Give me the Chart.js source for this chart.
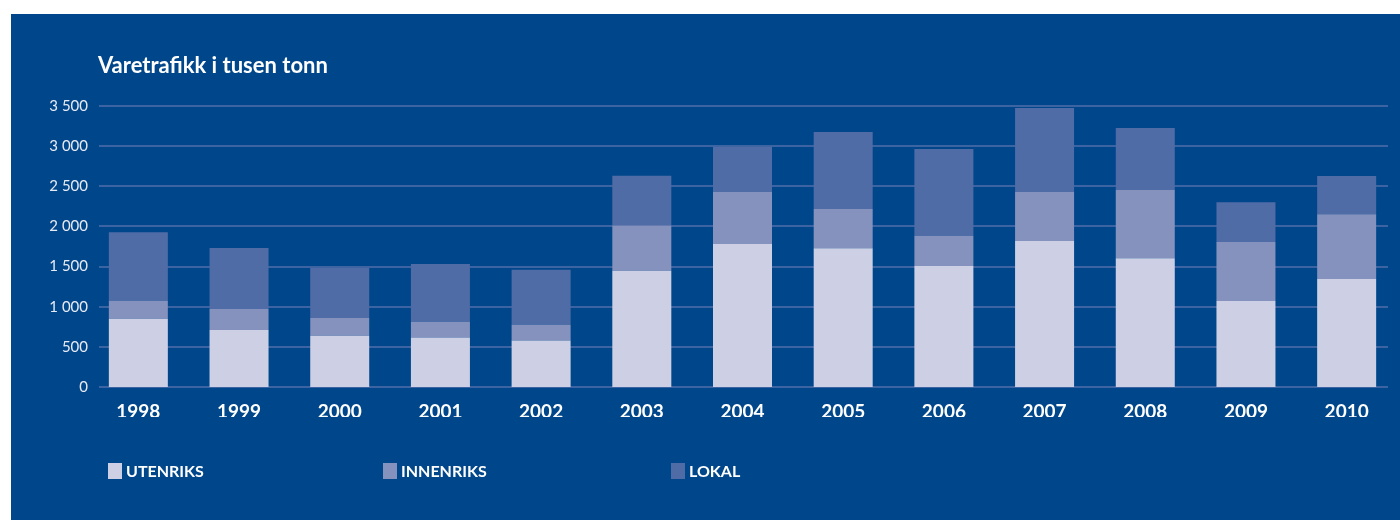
<!DOCTYPE html>
<html>
<head>
<meta charset="utf-8">
<script src="https://cdn.jsdelivr.net/npm/chart.js@4"></script>
<style>
  html, body { margin: 0; padding: 0; background: #ffffff; }
  #wrap { position: absolute; left: 11px; top: 14px; width: 1389px; height: 506px; background: #00468b; }
</style>
</head>
<body>
<div id="wrap"><canvas id="chart" width="1389" height="506"></canvas></div>
<script>
// Varetrafikk i tusen tonn
const years = ["1998", "1999", "2000", "2001", "2002", "2003", "2004", "2005", "2006", "2007", "2008", "2009", "2010"];
const utenriks = [851, 710, 639, 618, 580, 1449, 1781, 1728, 1507, 1819, 1603, 1071, 1345];
const innenriks = [224, 262, 220, 195, 196, 564, 648, 489, 378, 610, 851, 735, 806];
const lokal = [852, 759, 627, 719, 685, 619, 564, 959, 1080, 1046, 772, 494, 477];
const yTicks = [0, 500, 1000, 1500, 2000, 2500, 3000, 3500];

const chartTitle = "Varetrafikk i tusen tonn";
const FONT = "Lato, 'Open Sans', sans-serif";

// grid lines are a bit shorter than the bar area, so draw them here
const gridLines = {
  id: "gridLines",
  beforeDatasetsDraw(chart) {
    const { ctx, chartArea, scales } = chart;
    ctx.save();
    ctx.strokeStyle = "#3c63a2";
    ctx.lineWidth = 2;
    yTicks.forEach((v) => {
      const y = Math.round(scales.y.getPixelForValue(v));
      ctx.beginPath();
      ctx.moveTo(chartArea.left + 11, y);
      ctx.lineTo(chartArea.right - 9, y);
      ctx.stroke();
    });
    ctx.restore();
  },
};

// title and legend
const panelText = {
  id: "panelText",
  afterDraw(chart) {
    const { ctx } = chart;
    ctx.save();
    ctx.fillStyle = "#ffffff";
    ctx.textBaseline = "middle";
    ctx.font = "bold 22px " + FONT;
    ctx.fillText(chartTitle, 87, 52);

    const legendX = [97, 372, 660];
    ctx.font = "bold 16px " + FONT;
    chart.data.datasets.forEach((ds, i) => {
      ctx.fillStyle = ds.backgroundColor;
      ctx.fillRect(legendX[i], 449, 14, 16);
      ctx.fillStyle = "#ffffff";
      ctx.fillText(ds.label, legendX[i] + 18, 458);
    });
    ctx.restore();
  },
};

new Chart(document.getElementById("chart"), {
  type: "bar",
  data: {
    labels: years,
    datasets: [
      { label: "UTENRIKS", data: utenriks, backgroundColor: "#cdd0e5" },
      { label: "INNENRIKS", data: innenriks, backgroundColor: "#8592be" },
      { label: "LOKAL", data: lokal, backgroundColor: "#506ca6" },
    ],
  },
  options: {
    responsive: false,
    animation: false,
    layout: { padding: { top: 92, right: 3, left: 0, bottom: 103 } },
    datasets: { bar: { categoryPercentage: 1, barPercentage: 0.586 } },
    plugins: {
      legend: { display: false },
      title: { display: false },
      tooltip: { enabled: false },
    },
    scales: {
      x: {
        stacked: true,
        grid: { display: false },
        border: { display: false },
        ticks: { color: "#ffffff", padding: 5, font: { family: FONT, size: 19, weight: "bold" } },
        afterFit: (scale) => { scale.height = 30; },
      },
      y: {
        stacked: true,
        min: 0,
        max: 3500,
        grid: { display: false, drawTicks: false },
        border: { display: false },
        afterBuildTicks: (scale) => { scale.ticks = yTicks.map((v) => ({ value: v })); },
        afterFit: (scale) => { scale.width = 77; },
        ticks: {
          color: "#e8ebf4",
          padding: 0,
          font: { family: FONT, size: 15 },
          callback: (v) => (v >= 1000 ? Math.floor(v / 1000) + " " + String(v % 1000).padStart(3, "0") : String(v)),
        },
      },
    },
  },
  plugins: [gridLines, panelText],
});
</script>
</body>
</html>
